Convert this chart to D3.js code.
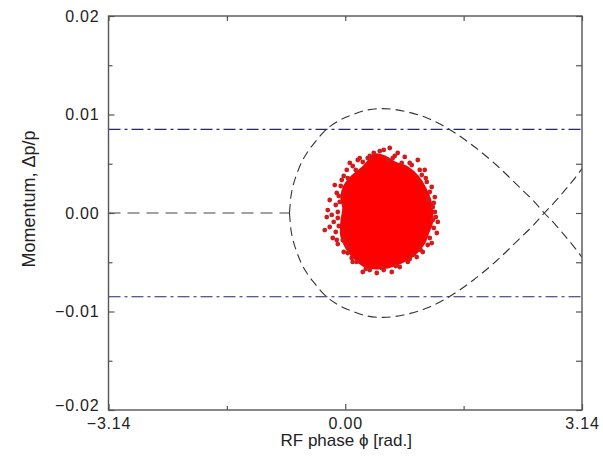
<!DOCTYPE html>
<html>
<head>
<meta charset="utf-8">
<script src="https://cdn.jsdelivr.net/npm/d3@7"></script>
<style>
  body { margin: 0; background: #fff; }
  text { font-family: "Liberation Sans", Arial, sans-serif; fill: #222; }
</style>
</head>
<body>
<div id="chart"></div>
<script>
////////////////////////////////////////////////////////////
//////////////////////// Data //////////////////////////////
////////////////////////////////////////////////////////////

// axis ticks
var xTicks = [-3.14, 0, 3.14];
var xMinorTicks = [-1.57, 1.57];
var yTicks = [-0.02, -0.01, 0, 0.01, 0.02];
var yMinorTicks = [-0.015, -0.005, 0.005, 0.015];

// bucket height limits (dash-dot lines)
var bucketLimits = [0.0085, -0.0085];

// separatrix, [phase, dp/p]
var separatrixTail = [[-3.14, 0], [-0.74, 0]];
var separatrixUpper = [
  [-0.74, 0], [-0.72, 0.0017], [-0.70, 0.0025], [-0.65, 0.0038], [-0.60, 0.0048],
  [-0.50, 0.0062], [-0.40, 0.0072], [-0.30, 0.0081], [-0.20, 0.0088], [-0.10, 0.0093],
  [0.10, 0.0100], [0.30, 0.01047], [0.50, 0.0106], [0.80, 0.0103], [1.10, 0.0096],
  [1.40, 0.0084], [1.70, 0.0068], [2.00, 0.0049], [2.30, 0.0027], [2.50, 0.0012],
  [2.64, 0], [2.80, -0.0013], [2.90, -0.0022], [3.00, -0.0031], [3.14, -0.0045]
];
var separatrixLower = [
  [-0.74, 0], [-0.72, -0.0017], [-0.70, -0.0025], [-0.65, -0.0038], [-0.60, -0.0048],
  [-0.50, -0.0062], [-0.40, -0.0072], [-0.30, -0.0081], [-0.20, -0.0088], [-0.10, -0.0093],
  [0.10, -0.0100], [0.30, -0.01047], [0.50, -0.0106], [0.80, -0.0103], [1.10, -0.0096],
  [1.40, -0.0084], [1.70, -0.0068], [2.00, -0.0049], [2.30, -0.0027], [2.50, -0.0012],
  [2.64, 0], [2.80, 0.0013], [2.90, 0.0022], [3.00, 0.0031], [3.14, 0.0045]
];

// dense core of the bunch (outline), [phase, dp/p]
var bunchCore = [
  [0.391, 0.00589], [0.524, 0.00569], [0.656, 0.00508], [0.829, 0.00457], [0.962, 0.00365],
  [1.054, 0.00254], [1.121, 0.00132], [1.147, 0.00010], [1.147, -0.00091], [1.094, -0.00203],
  [1.041, -0.00305], [0.922, -0.00416], [0.749, -0.00497], [0.564, -0.00548], [0.391, -0.00558],
  [0.259, -0.00538], [0.126, -0.00457], [0.020, -0.00355], [-0.046, -0.00234], [-0.046, -0.00091],
  [-0.020, 0.00051], [-0.046, 0.00152], [-0.007, 0.00274], [0.086, 0.00365], [0.245, 0.00467],
  [0.325, 0.00538]
];

// scattered particles round the core, [phase, dp/p]
var bunchPhase = [
  0.298, 0.232, 0.060, 0.099, -0.139, -0.113, -0.073, 0.325, 0.590, 0.696,
  0.789, 0.962, 1.015, 1.081, 1.121, 1.188, 1.161, 0.564, 0.749, -0.245,
  -0.206, -0.272, 1.214, 1.161, 1.188, 1.147, 0.948, 0.232, 0.418, 0.617,
  0.484, 0.033, -0.033, -0.179, -0.166, -0.113, 0.033, 0.086, 0.153, 1.094,
  0.895, 0.723, 1.028, 0.166, 0.458, 0.882, 1.094, 1.227, -0.099, -0.126,
  -0.020, 0.020, 0.325, 0.829, 0.988, -0.086, -0.153, 0.656, 1.054, 0.510,
  0.192, 0.378, 0.630, 0.855, 0.988, 1.068, 1.147, 1.174, 1.201, 1.174,
  1.121, 1.001, 0.855, 0.670, 0.510, 0.272, 0.099, -0.020, -0.099, -0.126,
  -0.099, -0.086, -0.060, 0.033, 0.139, -0.046, -0.206, -0.232
];
var bunchMomentum = [
  0.00558, 0.00518, 0.00508, 0.00477, 0.00284, 0.00203, 0.00112, 0.00579, 0.00660, 0.00609,
  0.00569, 0.00538, 0.00386, 0.00315, 0.00213, 0.00162, 0.00061, 0.00538, 0.00508, -0.00041,
  -0.00142, -0.00173, -0.00203, -0.00071, 0.00010, -0.00305, -0.00447, -0.00599, -0.00609, -0.00599,
  -0.00558, -0.00345, -0.00274, -0.00020, -0.00254, -0.00274, -0.00406, -0.00457, -0.00497, -0.00325,
  -0.00426, -0.00548, -0.00396, 0.00538, 0.00629, 0.00487, 0.00132, -0.00091, 0.00010, 0.00081,
  0.00376, 0.00437, -0.00579, -0.00497, -0.00355, -0.00132, -0.00091, 0.00579, 0.00437, 0.00640,
  0.00558, 0.00609, 0.00558, 0.00508, 0.00437, 0.00355, 0.00264, 0.00102, -0.00041, -0.00152,
  -0.00254, -0.00376, -0.00467, -0.00538, -0.00579, -0.00569, -0.00497, -0.00396, -0.00315, -0.00193,
  -0.00051, 0.00173, 0.00274, 0.00355, 0.00437, 0.00335, 0.00132, 0.00030
];

////////////////////////////////////////////////////////////
//////////////////////// Set-up ////////////////////////////
////////////////////////////////////////////////////////////

var totalWidth = 603, totalHeight = 459;
var margin = { left: 108.5, top: 16, right: 21, bottom: 49 },
    width = totalWidth - margin.left - margin.right,
    height = totalHeight - margin.top - margin.bottom;

var svg = d3.select("#chart").append("svg")
    .attr("width", totalWidth)
    .attr("height", totalHeight);

var g = svg.append("g")
    .attr("transform", "translate(" + margin.left + "," + margin.top + ")");

var x = d3.scaleLinear().domain([-3.14, 3.14]).range([0, width]);
var y = d3.scaleLinear().domain([-0.02, 0.02]).range([height, 0]);

var line = d3.line()
    .x(function (d) { return x(d[0]); })
    .y(function (d) { return y(d[1]); });

////////////////////////////////////////////////////////////
//////////////////////// Marks /////////////////////////////
////////////////////////////////////////////////////////////

svg.append("clipPath").attr("id", "clip")
  .append("rect").attr("width", width).attr("height", height);
var plot = g.append("g").attr("clip-path", "url(#clip)");

// dense core
plot.append("path")
    .attr("d", line.curve(d3.curveCatmullRomClosed)(bunchCore))
    .style("fill", "#ff0000")
    .style("stroke", "#f00808")
    .style("stroke-width", 3)
    .style("stroke-linejoin", "round");

// scattered particles
plot.selectAll(".particle")
    .data(d3.range(bunchPhase.length))
    .enter().append("circle")
    .attr("class", "particle")
    .attr("cx", function (i) { return x(bunchPhase[i]); })
    .attr("cy", function (i) { return y(bunchMomentum[i]); })
    .attr("r", 2.4)
    .style("fill", "#d41a1a");

// bucket limits
plot.selectAll(".limit")
    .data(bucketLimits)
    .enter().append("line")
    .attr("class", "limit")
    .attr("x1", x(-3.14)).attr("x2", x(3.14))
    .attr("y1", function (d) { return y(d); })
    .attr("y2", function (d) { return y(d); })
    .style("stroke", "#262670")
    .style("stroke-width", 1.2)
    .style("stroke-dasharray", "12,4,3,4");

// separatrix
plot.append("path")
    .attr("d", line.curve(d3.curveLinear)(separatrixTail))
    .style("fill", "none")
    .style("stroke", "#444")
    .style("stroke-width", 1.2)
    .style("stroke-dasharray", "12,7");

[separatrixUpper, separatrixLower].forEach(function (branch) {
  plot.append("path")
      .attr("d", line.curve(d3.curveMonotoneX)(branch))
      .style("fill", "none")
      .style("stroke", "#333")
      .style("stroke-width", 1.1)
      .style("stroke-dasharray", "9,5");
});

////////////////////////////////////////////////////////////
//////////////////////// Axes //////////////////////////////
////////////////////////////////////////////////////////////

function styleAxis(sel) {
  sel.select(".domain").remove();
  sel.selectAll("line").style("stroke", "#555").style("stroke-width", 1.2);
  sel.selectAll("text").style("font-size", "16px").style("letter-spacing", "0.8px").style("fill", "#222");
}

var fmt = d3.format(".2f");

var yAxis = g.append("g")
  .call(d3.axisLeft(y).tickValues(yTicks).tickSize(-6).tickPadding(9).tickFormat(fmt))
  .call(styleAxis);
// bottom label sits a little higher, clear of the x labels
yAxis.selectAll(".tick text").filter(function (d) { return d === -0.02; }).attr("dy", "0.05em");

g.append("g").call(d3.axisLeft(y).tickValues(yMinorTicks).tickSize(-4).tickFormat("")).call(styleAxis);
g.append("g").attr("transform", "translate(" + width + ",0)")
  .call(d3.axisRight(y).tickValues(yTicks.concat(yMinorTicks)).tickSize(-6).tickFormat("")).call(styleAxis);

g.append("g").attr("transform", "translate(0," + height + ")")
  .call(d3.axisBottom(x).tickValues(xTicks).tickSize(-6).tickPadding(8).tickFormat(fmt)).call(styleAxis);
g.append("g").attr("transform", "translate(0," + height + ")")
  .call(d3.axisBottom(x).tickValues(xMinorTicks).tickSize(-4).tickFormat("")).call(styleAxis);
g.append("g")
  .call(d3.axisTop(x).tickValues(xTicks.concat(xMinorTicks)).tickSize(-5).tickFormat("")).call(styleAxis);

// frame
g.append("rect")
    .attr("width", width).attr("height", height)
    .style("fill", "none").style("stroke", "#555").style("stroke-width", 1.4);

// axis titles
g.append("text")
    .attr("x", width / 2 + 1).attr("y", height + 36)
    .attr("text-anchor", "middle")
    .style("font-size", "17px")
    .text("RF phase \u03d5 [rad.]");

g.append("text")
    .attr("transform", "translate(" + (-74) + "," + (height / 2 - 14) + ") rotate(-90)")
    .attr("text-anchor", "middle")
    .style("font-size", "18px")
    .text("Momentum, \u0394p/p");
</script>
</body>
</html>
